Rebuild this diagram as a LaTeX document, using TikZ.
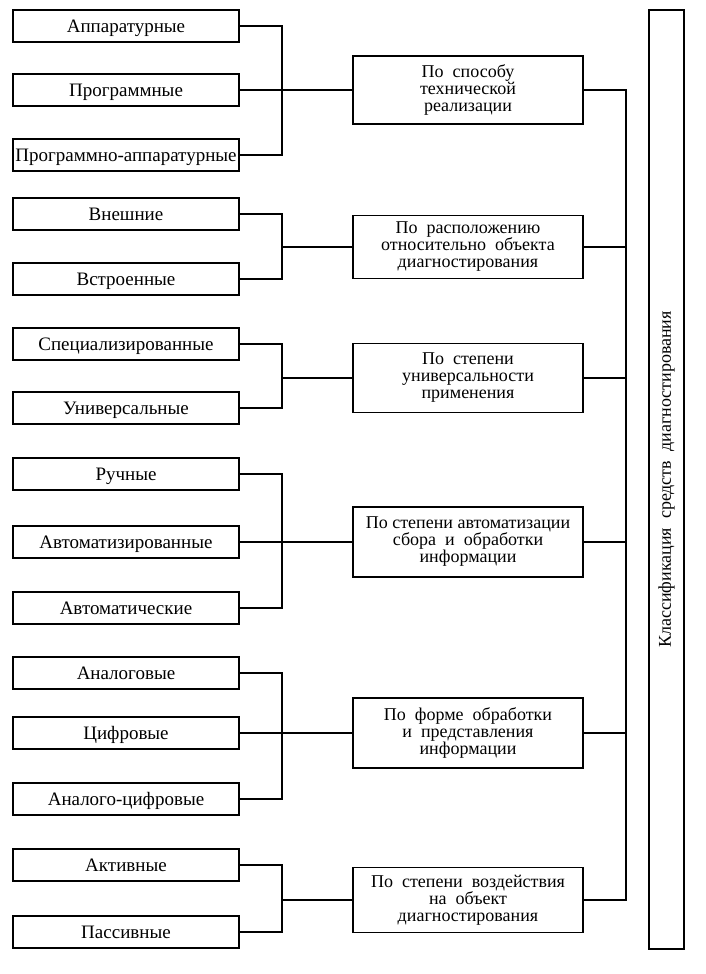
\documentclass[tikz,border=0pt]{standalone}
\usepackage{fontspec}
\setmainfont{Liberation Serif}
\begin{document}
\begin{tikzpicture}[x=1pt,y=-1pt,
  leftbox/.style={draw,line width=1.6pt,minimum width=226pt,minimum height=32pt,inner sep=0pt,text height=13pt,text depth=0pt,font=\fontsize{19}{19}\selectfont},
  midbox/.style={draw,line width=1.6pt,minimum width=230pt,inner sep=0pt,align=center,font=\fontsize{18}{17}\selectfont},
  link/.style={line width=1.3pt}]
\useasboundingbox (0,0) rectangle (706,974);
% left boxes
\node[leftbox] (a1) at (126,26) {Аппаратурные};
\node[leftbox] (a2) at (126,90) {Программные};
\node[leftbox] (a3) at (126,155) {Программно-аппаратурные};
\node[leftbox] (a4) at (126,214) {Внешние};
\node[leftbox] (a5) at (126,279) {Встроенные};
\node[leftbox] (a6) at (126,344) {Специализированные};
\node[leftbox] (a7) at (126,408) {Универсальные};
\node[leftbox] (a8) at (126,474) {Ручные};
\node[leftbox] (a9) at (126,542) {Автоматизированные};
\node[leftbox] (a10) at (126,608) {Автоматические};
\node[leftbox] (a11) at (126,673) {Аналоговые};
\node[leftbox] (a12) at (126,733) {Цифровые};
\node[leftbox] (a13) at (126,799) {Аналого-цифровые};
\node[leftbox] (a14) at (126,865) {Активные};
\node[leftbox] (a15) at (126,932) {Пассивные};
% middle boxes
\node[midbox,minimum height=68pt] (m1) at (468,90) {По\ \ способу\\технической\\реализации};
\node[midbox,minimum height=63pt] (m2) at (468,247) {По\ \ расположению\\относительно\ \ объекта\\диагностирования};
\node[midbox,minimum height=69pt] (m3) at (468,378) {По\ \ степени\\универсальности\\применения};
\node[midbox,minimum height=70pt] (m4) at (468,542) {По\ степени\ автоматизации\\сбора\ \ и\ \ обработки\\информации};
\node[midbox,minimum height=70pt] (m5) at (468,733) {По\ \ форме\ \ обработки\\и\ \ представления\\информации};
\node[midbox,minimum height=65pt] (m6) at (468,900) {По\ \ степени\ \ воздействия\\на\ \ объект\\диагностирования};
% tall box
\node[draw,line width=1.6pt,minimum width=35pt,minimum height=939pt,inner sep=0pt] (t) at (666.5,479.5) {};
\node[rotate=90,font=\fontsize{18}{18}\selectfont] (tt) at (t.center) {Классификация\ \ средств\ \ диагностирования};
% junctions
\coordinate (j1) at (282,90);
\coordinate (j2) at (282,247);
\coordinate (j3) at (282,378);
\coordinate (j4) at (282,542);
\coordinate (j5) at (282,733);
\coordinate (j6) at (282,900);
\draw[link] (a1.east) -| (j1) |- (a3.east);
\draw[link] (a2.east) -- (m1.west);
\draw[link] (a4.east) -| (j2) |- (a5.east);
\draw[link] (j2) -- (m2.west);
\draw[link] (a6.east) -| (j3) |- (a7.east);
\draw[link] (j3) -- (m3.west);
\draw[link] (a8.east) -| (j4) |- (a10.east);
\draw[link] (a9.east) -- (m4.west);
\draw[link] (a11.east) -| (j5) |- (a13.east);
\draw[link] (a12.east) -- (m5.west);
\draw[link] (a14.east) -| (j6) |- (a15.east);
\draw[link] (j6) -- (m6.west);
% right bus
\coordinate (r1) at (626,90);
\coordinate (r6) at (626,900);
\draw[link] (m1.east) -| (r6) -- (m6.east);
\draw[link] (m2.east) -- (m2.east -| r1);
\draw[link] (m3.east) -- (m3.east -| r1);
\draw[link] (m4.east) -- (m4.east -| r1);
\draw[link] (m5.east) -- (m5.east -| r1);
\end{tikzpicture}
\end{document}
